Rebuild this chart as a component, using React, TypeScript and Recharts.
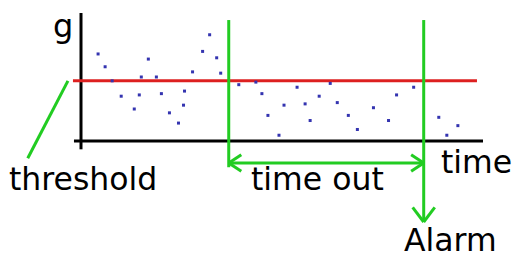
import React from 'react';
import {
  ReferenceLine,
  Scatter,
  ScatterChart,
  XAxis,
  YAxis,
  Customized,
} from 'recharts';

// sampled readings: time (x) and g (y)
const sampleTime = [
  1.7, 2.4, 3.1, 4.0, 5.3, 5.8, 6.0, 6.7, 7.5, 8.0, 8.8, 9.7, 10.2, 10.3,
  11.1, 12.1, 12.8, 13.5, 13.9, 15.7, 17.4, 18.0, 18.6, 19.7, 20.2, 21.5,
  22.3, 22.8, 23.7, 24.8, 25.5, 26.6, 27.5, 29.1, 30.6, 31.4, 33.1, 35.6,
  36.4, 37.5,
];
const sampleG = [
  6.8, 5.8, 4.7, 3.5, 2.5, 3.6, 5.0, 6.4, 5.0, 3.7, 2.2, 1.4, 2.8, 3.9,
  5.4, 7.0, 8.3, 6.5, 5.3, 4.4, 4.6, 3.7, 2.0, 0.45, 2.8, 4.2, 2.9, 1.6,
  3.5, 4.5, 3.0, 2.0, 0.9, 2.6, 1.6, 3.6, 4.2, 1.85, 0.45, 1.2,
];

const THRESHOLD = 4.7;
const TIMEOUT_START = 14.7;
const ALARM_AT = 34.1;
const TIMEOUT_ARROW_Y = -1.72;
const ALARM_ARROW_Y = -6.33;

const labels = {
  yAxis: 'g',
  xAxis: 'time',
  threshold: 'threshold',
  timeout: 'time out',
  alarm: 'Alarm',
};

const points = sampleTime.map((t, i) => ({ t, g: sampleG[i] }));

const RED = '#dd2020';
const GREEN = '#22cc22';
const FONT = '"DejaVu Sans", sans-serif';

type Pt = { x: number; y: number };
const seg = (a: Pt, b: Pt, stroke: string, key: string) => (
  <ReferenceLine
    key={key}
    segment={[a, b]}
    stroke={stroke}
    strokeWidth={3}
    ifOverflow="visible"
  />
);

const Dot = (props: any) => (
  <rect x={props.cx - 1.5} y={props.cy - 1.5} width={3} height={3} fill="#3434b0" />
);

const Annotations = () => (
  <g fontFamily={FONT} fontSize={31.5} fill="#000">
    <text x={53} y={37} fontSize={32}>{labels.yAxis}</text>
    <text x={441} y={173}>{labels.xAxis}</text>
    <text x={9} y={190}>{labels.threshold}</text>
    <text x={251} y={190}>{labels.timeout}</text>
    <text x={404} y={251}>{labels.alarm}</text>
  </g>
);

export default function App() {
  const arm = 1.25;
  const lift = 0.65;
  return (
    <div style={{ position: 'absolute', left: 0, top: 0, background: '#fff' }}>
      <ScatterChart
        width={516}
        height={254}
        margin={{ top: 13, right: 33, bottom: 113, left: 81 }}
      >
        <XAxis type="number" dataKey="t" domain={[0, 40]} hide />
        <YAxis type="number" dataKey="g" domain={[0, 10]} hide />
        {/* axes with small overhang */}
        {seg({ x: 0, y: -0.65 }, { x: 0, y: 10 }, '#000', 'yax')}
        {seg({ x: -0.7, y: 0 }, { x: 40, y: 0 }, '#000', 'xax')}
        {/* threshold */}
        {seg({ x: -0.8, y: THRESHOLD }, { x: 39.4, y: THRESHOLD }, RED, 'thr')}
        {seg({ x: -1.3, y: THRESHOLD }, { x: -5.3, y: -1.35 }, GREEN, 'thrPtr')}
        {/* time out start / alarm verticals */}
        {seg({ x: TIMEOUT_START, y: 9.45 }, { x: TIMEOUT_START, y: -2.05 }, GREEN, 'v1')}
        {seg({ x: ALARM_AT, y: 9.45 }, { x: ALARM_AT, y: ALARM_ARROW_Y }, GREEN, 'v2')}
        {/* time out double arrow */}
        {seg({ x: TIMEOUT_START, y: TIMEOUT_ARROW_Y }, { x: ALARM_AT, y: TIMEOUT_ARROW_Y }, GREEN, 'to')}
        {seg({ x: TIMEOUT_START, y: TIMEOUT_ARROW_Y }, { x: TIMEOUT_START + arm, y: TIMEOUT_ARROW_Y + lift }, GREEN, 'toL1')}
        {seg({ x: TIMEOUT_START, y: TIMEOUT_ARROW_Y }, { x: TIMEOUT_START + arm, y: TIMEOUT_ARROW_Y - lift }, GREEN, 'toL2')}
        {seg({ x: ALARM_AT, y: TIMEOUT_ARROW_Y }, { x: ALARM_AT - arm, y: TIMEOUT_ARROW_Y + lift }, GREEN, 'toR1')}
        {seg({ x: ALARM_AT, y: TIMEOUT_ARROW_Y }, { x: ALARM_AT - arm, y: TIMEOUT_ARROW_Y - lift }, GREEN, 'toR2')}
        {/* alarm arrowhead */}
        {seg({ x: ALARM_AT, y: ALARM_ARROW_Y }, { x: ALARM_AT - 1.1, y: ALARM_ARROW_Y + 1.15 }, GREEN, 'aL')}
        {seg({ x: ALARM_AT, y: ALARM_ARROW_Y }, { x: ALARM_AT + 1.1, y: ALARM_ARROW_Y + 1.15 }, GREEN, 'aR')}
        <Scatter data={points} shape={Dot} isAnimationActive={false} />
        <Customized component={Annotations} />
      </ScatterChart>
    </div>
  );
}
